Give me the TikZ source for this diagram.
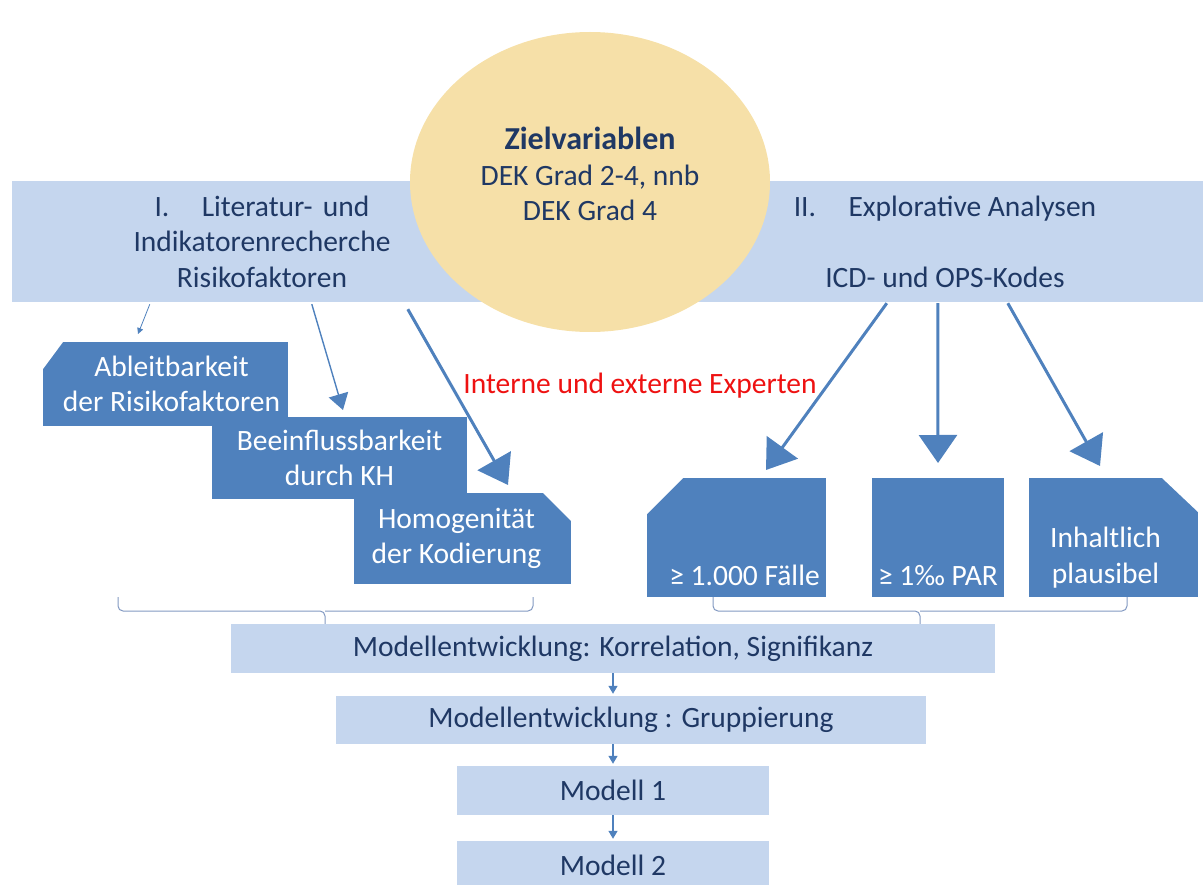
\documentclass[tikz,border=0pt]{standalone}
\usepackage{fontspec}
\setmainfont{Carlito}
\usetikzlibrary{arrows.meta, shapes.geometric, calc}
\definecolor{navy}{HTML}{1F3864}
\definecolor{bandblue}{HTML}{C5D6EE}
\definecolor{boxblue}{HTML}{4F81BD}
\definecolor{gold}{HTML}{F6E0A8}
\definecolor{alert}{HTML}{EE1111}
\definecolor{bracegray}{HTML}{8299C2}
\tikzset{
  font=\fontsize{29.5}{35.5}\selectfont,
  %
  band/.style={fill=bandblue, text=navy, align=center, inner sep=0pt},
  goal/.style={ellipse, fill=gold, inner sep=0pt},
  goaltext/.style={text=navy, align=center, anchor=center},
  crit/.style={fill=boxblue, text=white, align=center, inner sep=0pt},
  snipnw/.style 2 args={path picture={
      \fill[white] (path picture bounding box.north west) -- ++(#1,0) -- ++(-#1,#2) -- cycle;}},
  snipne/.style 2 args={path picture={
      \fill[white] (path picture bounding box.north east) -- ++(-#1,0) -- ++(#1,#2) -- cycle;}},
  stage/.style={fill=bandblue, text=navy, inner sep=0pt},
  low/.style={anchor=south, inner sep=11pt, text=white, align=center},
  %
  flow/.style={draw=boxblue, line width=3pt, -{Triangle[length=28pt, width=38pt]}},
  flowmid/.style={draw=boxblue, line width=1.4pt, -{Triangle[length=16pt, width=20pt]}},
  flowthin/.style={draw=boxblue, line width=0.8pt, -{Triangle[length=6pt, width=6pt]}},
  flowdown/.style={draw=boxblue, line width=1.4pt, -{Triangle[length=8pt, width=9pt]}},
  bracket/.style={draw=bracegray, line width=1pt, rounded corners=5pt},
}
\begin{document}
\begin{tikzpicture}[x=1pt, y=-1pt]
  \useasboundingbox (0,0) rectangle (1203,885);

  % the two research strands
  \node[band, minimum width=500, minimum height=121] (lit) at (262,241.5)
    {I.\hspace{1.1em}Literatur-\hspace{0.35em}und\\Indikatorenrecherche\\Risikofaktoren};
  \node[band, minimum width=516, minimum height=121] (expl) at (945,241.5)
    {II.\hspace{1.1em}Explorative Analysen\\[35.5pt]ICD- und OPS-Kodes};

  \node[goal, minimum width=360, minimum height=300,
        label={[goaltext, yshift=8]center:{{\fontsize{32}{40}\selectfont\bfseries Zielvariablen}\\DEK Grad 2-4, nnb\\DEK Grad 4}}]
    (goal) at (590,182) {};

  % criteria, strand I
  \node[crit, snipnw={20}{27}, minimum width=245, minimum height=84] (derive) at (165.5,384)
    {\hspace*{12pt}Ableitbarkeit\\\hspace*{12pt}der Risikofaktoren};
  \node[crit, minimum width=255, minimum height=82] (influence) at (339.5,458)
    {Beeinflussbarkeit\\durch KH};
  \node[crit, snipne={28}{28}, minimum width=217, minimum height=91] (coding) at (462.5,538.5)
    {Homogenität\hspace*{12pt}\\der Kodierung\hspace*{12pt}};

  % criteria, strand II
  \node[crit, snipnw={36}{36}, minimum width=179, minimum height=119,
        label={[low, xshift=8]south:{≥ 1.000 Fälle}}] (cases) at (736.5,537.5) {};
  \node[crit, minimum width=132, minimum height=119,
        label={[low]south:{≥ 1‰ PAR}}] (par) at (938,537.5) {};
  \node[crit, snipne={36}{34}, minimum width=169, minimum height=119,
        label={[low, inner sep=9pt, xshift=-8]south:{Inhaltlich\\plausibel}}] (plaus) at (1113.5,537.5) {};

  \node[text=alert] (experts) at (640,386) {Interne und externe Experten};

  \coordinate (ta) at (138,334);
  \coordinate (tb) at (343,410);
  \coordinate (tc) at (508,485);
  \coordinate (td) at (766,470);
  \coordinate (te) at (938,463);
  \coordinate (tf) at (1100,466);

  \draw[flowthin] ($(lit.south west)+(138,2)$) -- (ta);
  \draw[flowmid]  ($(lit.south west)+(300,2)$) -- (tb);
  \draw[flow]     ($(lit.south west)+(396,7)$) -- (tc);
  \draw[flow]     ($(expl.south west)+(200,1)$) -- (td);
  \draw[flow]     ($(expl.south west)+(251,1)$) -- (te);
  \draw[flow]     ($(expl.south west)+(321,1)$) -- (tf);

  % model building
  \node[stage, minimum width=764, minimum height=49] (corr) at (613,648.5)
    {Modellentwicklung: Korrelation, Signifikanz};
  \node[stage, minimum width=590, minimum height=48] (group) at (631,720)
    {Modellentwicklung : Gruppierung};
  \node[stage, minimum width=312, minimum height=49] (m1) at (613,790.5) {Modell 1};
  \node[stage, minimum width=312, minimum height=49] (m2) at (613,865.5) {Modell 2};

  \draw[bracket] (118,597) |- (325,611) -- (corr.north -| 325,0);
  \draw[bracket] (533,597) |- (325,611);
  \draw[bracket] (713,597) |- (920,611) -- (corr.north -| 920,0);
  \draw[bracket] (1127,597) |- (920,611);

  \draw[flowdown, shorten >=2pt] (corr.south) -- (corr.south |- group.north);
  \draw[flowdown, shorten >=2pt] (group.south -| m1.north) -- (m1.north);
  \draw[flowdown, shorten >=2pt] (m1.south) -- (m2.north);

\end{tikzpicture}
\end{document}
